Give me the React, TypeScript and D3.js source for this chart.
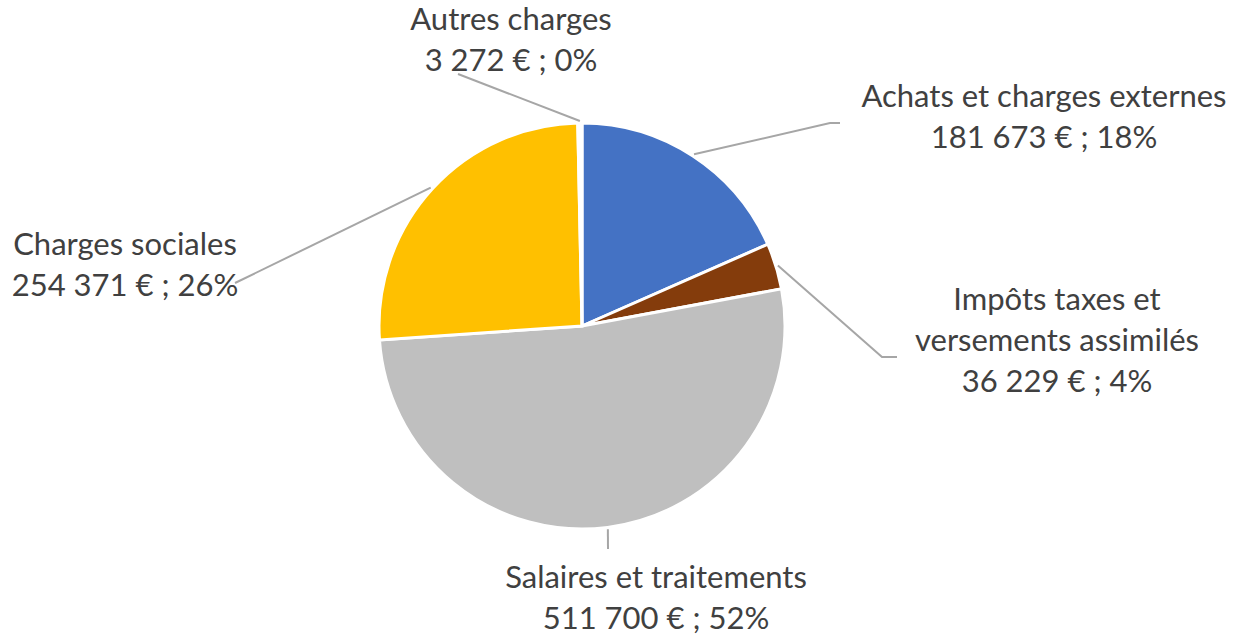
import * as React from 'react';
import * as d3 from 'd3';

const categories = [
  'Achats et charges externes',
  'Impôts taxes et versements assimilés',
  'Salaires et traitements',
  'Charges sociales',
  'Autres charges',
];
const amounts = [181673, 36229, 511700, 254371, 3272];
const colors = ['#4472C4', '#843C0C', '#BFBFBF', '#FFC000', '#FFFFFF'];

// label lines, as Excel wrapped them
const labelLines = [
  ['Achats et charges externes'],
  ['Impôts taxes et', 'versements assimilés'],
  ['Salaires et traitements'],
  ['Charges sociales'],
  ['Autres charges'],
];

// label placement (layout only): text centre x, first line y, leader end, optional elbow
const labelLayout = [
  { x: 1044, y: 95, end: [840, 123], elbow: [830, 123] },
  { x: 1057, y: 298, end: [897, 357], elbow: [882, 357] },
  { x: 656, y: 576, end: [608, 549], elbow: null },
  { x: 125, y: 243, end: [235, 283], elbow: null },
  { x: 511, y: 18, end: [458, 74], elbow: null },
];

const W = 1234;
const H = 635;
const CX = 582;
const CY = 326;
const R = 203;
const LINE_H = 41;

const fmt = (v: number) => d3.format(',')(v).replace(/,/g, ' ');

export default function App() {
  const total = d3.sum(amounts);
  const data = amounts.map((v, i) => ({ i, v }));
  const pie = d3
    .pie<{ i: number; v: number }>()
    .value((d) => d.v)
    .sort(null);
  const arcs = pie(data);
  const arc = d3.arc<d3.PieArcDatum<{ i: number; v: number }>>().innerRadius(0).outerRadius(R);

  return (
    <div style={{ position: 'fixed', left: 0, top: 0, width: W, height: H, background: '#fff' }}>
      <svg width={W} height={H} style={{ display: 'block' }} fontFamily="Lato, 'Open Sans', sans-serif">
        <rect width={W} height={H} fill="#fff" />
        <g transform={`translate(${CX},${CY})`}>
          {arcs.map((a) => (
            <path key={a.data.i} d={arc(a) || ''} fill={colors[a.data.i]} stroke="#fff" strokeWidth={3} />
          ))}
        </g>
        {arcs.map((a) => {
          const lay = labelLayout[a.data.i];
          const mid = (a.startAngle + a.endAngle) / 2;
          const sx = CX + (R + 2) * Math.sin(mid);
          const sy = CY - (R + 2) * Math.cos(mid);
          const pts: [number, number][] = [[sx, sy]];
          if (lay.elbow) pts.push(lay.elbow as [number, number]);
          pts.push(lay.end as [number, number]);
          return (
            <path
              key={a.data.i}
              d={d3.line()(pts) || ''}
              fill="none"
              stroke="#A6A6A6"
              strokeWidth={2}
            />
          );
        })}
        {categories.map((c, i) => {
          const lay = labelLayout[i];
          const pct = Math.round((amounts[i] / total) * 100);
          const lines = [...labelLines[i], `${fmt(amounts[i])} € ; ${pct}%`];
          return (
            <text key={c} textAnchor="middle" fill="#404040" fontSize={31}>
              {lines.map((l, k) => (
                <tspan key={k} x={lay.x} y={lay.y + k * LINE_H} dominantBaseline="central">
                  {l}
                </tspan>
              ))}
            </text>
          );
        })}
      </svg>
    </div>
  );
}
